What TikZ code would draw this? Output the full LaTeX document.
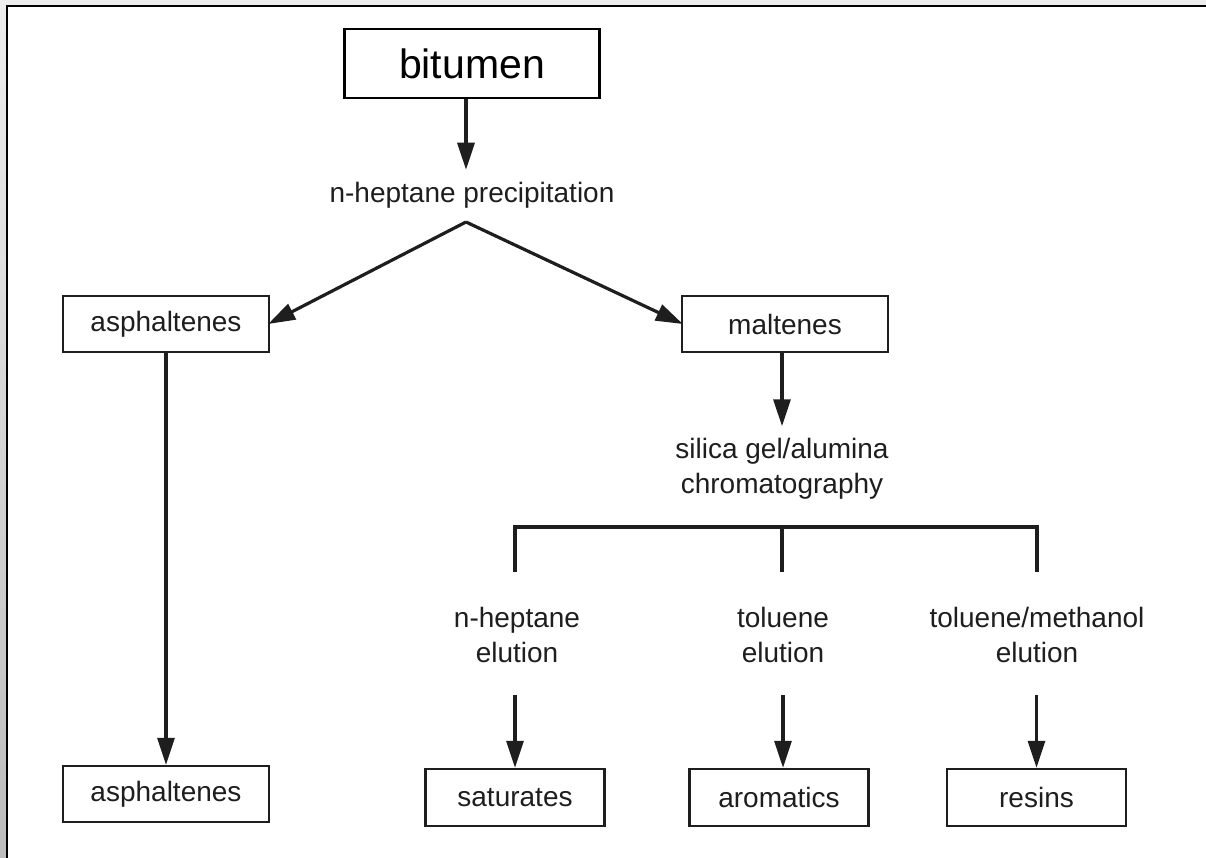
\documentclass[tikz,border=0pt]{standalone}
\usepackage{fontspec}
\setmainfont{Liberation Sans}
\usetikzlibrary{arrows.meta}
\definecolor{ink}{HTML}{1E1E1E}
\definecolor{bgray}{HTML}{EDEDED}
\definecolor{sgray}{HTML}{BCBCBC}
\begin{document}
\begin{tikzpicture}[x=1pt,y=-1pt,
  box/.style={draw=ink,line width=2.4pt,minimum width=206pt,minimum height=56pt,inner sep=0pt,font=\fontsize{28}{34}\selectfont,text=ink},
  sbox/.style={box,minimum width=179pt,minimum height=57pt},
  lbl/.style={align=center,font=\fontsize{28}{35}\selectfont,text=ink,inner sep=0pt},
  conn/.style={draw=ink,line width=3.2pt},
  arr/.style={conn,-{Triangle[length=27pt,width=17pt]}}]
\useasboundingbox (0,0) rectangle (1206,858);
% frame
\fill[bgray] (0,0) rectangle (1206,858);
\shade[top color=bgray,bottom color=sgray] (0,6) rectangle (7,858);
\fill[white] (7,6) rectangle (1206,858);
\draw[black,line width=2.5pt] (7,858) -- (7,6) -- (1206,6);
% nodes
\node[draw=black,line width=2.6pt,minimum width=255pt,minimum height=69pt,inner sep=0pt,font=\fontsize{41}{48}\selectfont] (bit) at (472,63.5) {bitumen};
\node[lbl] (prec) at (472,195) {n-heptane precipitation};
\coordinate (apex) at (466,222);
\node[box] (asph1) at (166,324) {asphaltenes};
\node[box] (malt) at (785,324) {maltenes};
\node[lbl] (sil) at (782,469) {silica gel/alumina\\chromatography};
\coordinate (bl) at (515,527);
\coordinate (bm) at (782,527);
\coordinate (br) at (1037,527);
\coordinate (blb) at (515,572);
\coordinate (bmb) at (782,572);
\coordinate (brb) at (1037,572);
\node[lbl] (hep) at (517,635) {n-heptane\\elution};
\node[lbl] (tol) at (783,635) {toluene\\elution};
\node[lbl] (tm) at (1037,635) {toluene/methanol\\elution};
\node[box] (asph2) at (166,794) {asphaltenes};
\node[sbox] (sat) at (515,797.5) {saturates};
\node[sbox] (aro) at (779,797.5) {aromatics};
\node[sbox] (res) at (1036.5,797.5) {resins};
% connectors
\draw[arr] (bit.south -| apex) -- ([yshift=12pt]prec.north -| apex);
\draw[arr] (apex) -- ([xshift=-2pt]asph1.east);
\draw[arr] (apex) -- ([xshift=2pt]malt.west);
\draw[arr] ([xshift=-3pt]malt.south) -- ([xshift=0pt,yshift=12pt]sil.north);
\draw[conn,line cap=rect] (bl) -- (br);
\draw[conn] (bl) -- (blb);
\draw[conn] (bm) -- (bmb);
\draw[conn] (br) -- (brb);
\draw[arr] ([yshift=-32pt]hep.south -| sat.north) -- (sat.north);
\draw[arr] ([yshift=-32pt]tol.south) -- (tol.south |- aro.north);
\draw[arr] ([yshift=-32pt]tm.south -| res.north) -- (res.north);
\draw[arr] (asph1.south) -- (asph2.north);
\end{tikzpicture}
\end{document}
